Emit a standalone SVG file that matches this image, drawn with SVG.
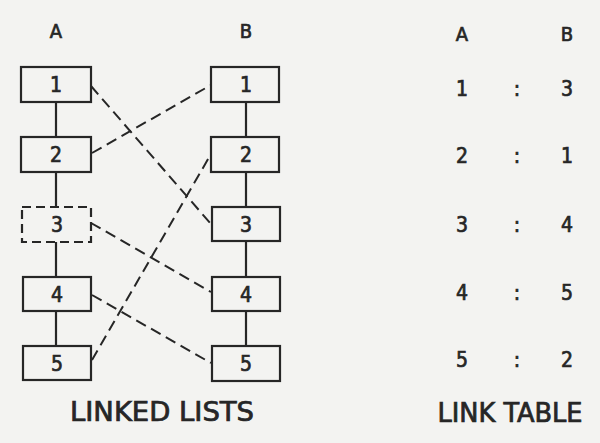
<svg xmlns="http://www.w3.org/2000/svg" width="600" height="443" viewBox="0 0 600 443">
<style>
.bg{fill:#f3f3f1}
.box{fill:none;stroke:#262626;stroke-width:2.2}
.dbox{fill:none;stroke:#262626;stroke-width:2.2;stroke-dasharray:9 5}
.t{font-family:"DejaVu Sans Condensed","DejaVu Sans",sans-serif;fill:#262626;stroke:#262626;stroke-width:0.7;text-anchor:middle}
.n{font-size:21px}
.h{font-size:20px}
.cap{font-size:26px}
.chain{stroke:#262626;stroke-width:2.2}
.link{stroke:#262626;stroke-width:2;stroke-dasharray:11 6;fill:none}
</style>
<rect class="bg" x="0" y="0" width="600" height="443"/>
<text class="t h" x="56" y="38">A</text>
<text class="t h" x="246" y="38">B</text>
<g id="chains">
<line class="chain" x1="56" y1="102" x2="56" y2="137"/>
<line class="chain" x1="56" y1="172" x2="56" y2="207"/>
<line class="chain" x1="56" y1="242" x2="56" y2="277"/>
<line class="chain" x1="56" y1="312" x2="56" y2="346"/>
<line class="chain" x1="246" y1="102" x2="246" y2="137"/>
<line class="chain" x1="246" y1="172" x2="246" y2="207"/>
<line class="chain" x1="246" y1="242" x2="246" y2="277"/>
<line class="chain" x1="246" y1="312" x2="246" y2="346"/>
</g>
<g id="connectors">
<line class="link" x1="91" y1="86" x2="211" y2="224"/>
<line class="link" x1="92" y1="153" x2="211" y2="85"/>
<line class="link" x1="91" y1="223" x2="211" y2="292"/>
<line class="link" x1="92" y1="295" x2="211" y2="363"/>
<line class="link" x1="92" y1="360" x2="211" y2="154"/>
</g>
<g id="A1"><rect class="box" x="21" y="67" width="70" height="35"/><text class="t n" x="56" y="92">1</text></g>
<g id="A2"><rect class="box" x="21" y="137" width="70" height="35"/><text class="t n" x="56" y="162">2</text></g>
<g id="A3"><rect class="dbox" x="22" y="207" width="69" height="35"/><text class="t n" x="57" y="232">3</text></g>
<g id="A4"><rect class="box" x="23" y="277" width="68" height="34"/><text class="t n" x="57" y="302">4</text></g>
<g id="A5"><rect class="box" x="23" y="346" width="68" height="34"/><text class="t n" x="57" y="371">5</text></g>
<g id="B1"><rect class="box" x="211" y="67" width="68" height="35"/><text class="t n" x="246" y="92">1</text></g>
<g id="B2"><rect class="box" x="211" y="137" width="68" height="35"/><text class="t n" x="246" y="162">2</text></g>
<g id="B3"><rect class="box" x="212" y="207" width="68" height="34"/><text class="t n" x="246" y="232">3</text></g>
<g id="B4"><rect class="box" x="212" y="277" width="68" height="34"/><text class="t n" x="246" y="302">4</text></g>
<g id="B5"><rect class="box" x="212" y="346" width="68" height="35"/><text class="t n" x="246" y="371">5</text></g>
<text class="t cap" x="162" y="421" textLength="184" lengthAdjust="spacingAndGlyphs">LINKED LISTS</text>
<g id="table">
<text class="t h" x="462" y="41">A</text>
<text class="t h" x="567" y="41">B</text>
<text class="t n" x="462" y="96">1</text><text class="t n" x="517" y="96">:</text><text class="t n" x="567" y="96">3</text>
<text class="t n" x="462" y="163">2</text><text class="t n" x="517" y="163">:</text><text class="t n" x="567" y="163">1</text>
<text class="t n" x="462" y="232">3</text><text class="t n" x="517" y="232">:</text><text class="t n" x="567" y="232">4</text>
<text class="t n" x="462" y="300">4</text><text class="t n" x="517" y="300">:</text><text class="t n" x="567" y="300">5</text>
<text class="t n" x="462" y="367">5</text><text class="t n" x="517" y="367">:</text><text class="t n" x="567" y="367">2</text>
<text class="t cap" x="510" y="422" textLength="145" lengthAdjust="spacingAndGlyphs">LINK TABLE</text>
</g>
</svg>
